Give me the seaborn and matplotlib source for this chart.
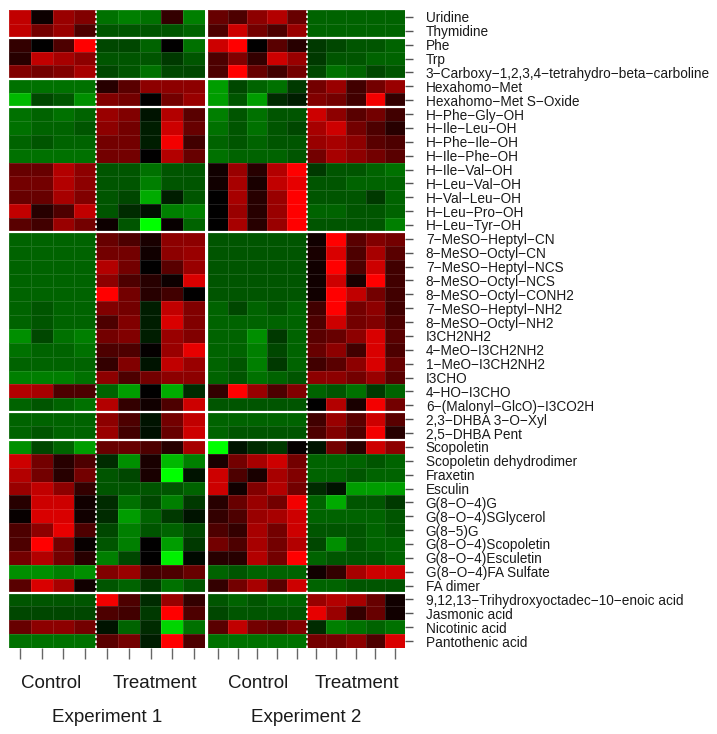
import numpy as np
import pandas as pd
import matplotlib
matplotlib.use("Agg")
import matplotlib.pyplot as plt
from matplotlib.colors import LinearSegmentedColormap, TwoSlopeNorm
import seaborn as sns

metabolites = [
    "Uridine", "Thymidine", "Phe", "Trp", "3-Carboxy-1,2,3,4-tetrahydro-beta-carboline",
    "Hexahomo-Met", "Hexahomo-Met S-Oxide", "H-Phe-Gly-OH", "H-Ile-Leu-OH", "H-Phe-Ile-OH",
    "H-Ile-Phe-OH", "H-Ile-Val-OH", "H-Leu-Val-OH", "H-Val-Leu-OH", "H-Leu-Pro-OH",
    "H-Leu-Tyr-OH", "7-MeSO-Heptyl-CN", "8-MeSO-Octyl-CN", "7-MeSO-Heptyl-NCS",
    "8-MeSO-Octyl-NCS", "8-MeSO-Octyl-CONH2", "7-MeSO-Heptyl-NH2", "8-MeSO-Octyl-NH2",
    "I3CH2NH2", "4-MeO-I3CH2NH2", "1-MeO-I3CH2NH2", "I3CHO", "4-HO-I3CHO",
    "6-(Malonyl-GlcO)-I3CO2H", "2,3-DHBA 3-O-Xyl", "2,5-DHBA Pent", "Scopoletin",
    "Scopoletin dehydrodimer", "Fraxetin", "Esculin", "G(8-O-4)G", "G(8-O-4)SGlycerol",
    "G(8-5)G", "G(8-O-4)Scopoletin", "G(8-O-4)Esculetin", "G(8-O-4)FA Sulfate", "FA dimer",
    "9,12,13-Trihydroxyoctadec-10-enoic acid", "Jasmonic acid", "Nicotinic acid",
    "Pantothenic acid",
]

exp1_control = [
    [7.5, 0.5, 6, 5], [7.5, 4.5, 6, 3], [2, 0, 3, 10], [1.5, 7.5, 6.5, 5.5], [5, 4.5, 5, 6.5],
    [-4, -4, -4, -4], [-6.5, -2.5, -3, -5], [-4, -3.5, -4, -3.5], [-4, -3.5, -3.5, -3],
    [-3.5, -3, -3.5, -3.5], [-4, -4, -4, -4], [4, 4, 7, 5.5], [4.5, 4.5, 7, 5.5],
    [4, 4, 6.5, 5], [7.5, 1.5, 3, 7.5], [3.5, 2.5, 6, 4.5],
    [-3.5, -3.5, -3.5, -3.5], [-3.5, -3.5, -3.5, -3.5], [-3.5, -3.5, -3.5, -3.5],
    [-3.5, -3.5, -3.5, -3.5], [-3.5, -3.5, -3.5, -3.5], [-3.5, -3, -3.5, -3.5],
    [-3.5, -3, -3.5, -3.5], [-5, -2.5, -4, -4.5], [-4, -3.5, -3.5, -4],
    [-3.5, -3.5, -3.5, -3.5], [-4.5, -4.5, -4.5, -4], [7, 6.5, 3, 3], [-3.5, -3, -3.5, -4],
    [-3.5, -3.5, -3.5, -3.5], [-3.5, -3, -3.5, -3.5], [-5, -2.5, -3.5, -5.5],
    [8, 4.5, 1.5, 3], [7, 4.5, 1.5, 4.5], [6, 7.5, 5.5, 2], [1.5, 8, 8, 0.7],
    [0.3, 8.5, 8.5, 0.7], [3, 5.5, 9, 3], [3, 10, 4.5, 0.3], [4.5, 7, 4.5, 1.5],
    [-5, -5, -4.5, -5], [3.5, 8.5, 6.5, 0.7], [-3, -3, -3, -3], [-2.5, -2.5, -2.5, -2.5],
    [4, 5.5, 5.5, 4.5], [-4, -4, -4, -4],
]

exp1_treatment = [
    [-4, -4.5, -4, 2, -4.5], [-3, -3, -3, -3, -3.5], [-2.5, -2.5, -3.5, 0, -4],
    [-3, -3, -3, -2, -3], [-2.5, -3, -4, -2.5, -2.5], [1.5, 3.5, 5.5, 5.5, 5.5],
    [5, 4.5, 0, 4.5, 6], [6, 5, -0.7, 7, 3.5], [5.5, 4.5, -1, 8, 4], [4.5, 4.5, -1, 9.5, 2.5],
    [4.5, 4.5, 0, 7, 4], [-3, -3, -4, -3, -3], [-3, -3, -4.5, -3, -3], [-3, -2.5, -6, -1, -3],
    [-3, -1.5, -0.5, -4.5, -4.5], [0.5, -3, -10, 0.3, -3.5], [4, 3, 1, 5.5, 5.5],
    [4.5, 4.5, 0.7, 5.5, 6], [7, 4.5, 0, 3.5, 6], [5.5, 3, 1.5, 0.5, 8.5],
    [10, 4.5, 1.5, 2.5, 0], [5, 4.5, -1, 7.5, 5], [3, 5, -1, 8.5, 5], [4.5, 5, -1, 6, 5],
    [3, 3, 0.2, 6, 9], [2, 5, -0.7, 7.5, 6], [5.5, 3, 4.5, 5.5, 5.5],
    [-3.5, -5.5, 0, -6, -1.5], [7, 2, 0.7, 3, 8], [5.5, 3, -0.7, 4.5, 7.5],
    [6, 2.5, -0.5, 4, 8], [4, 4, 3, 1.5, 6.5], [-1.5, -5, 1, -6.5, -4.5],
    [-3, -2.5, 1, -10, -0.7], [-3, -3, -3, -3, -3.5], [-1.5, -4, -2.5, -4.5, -2],
    [-1.5, -5.5, -3.5, -2, -0.7], [-2.5, -4.5, -3, -3.5, -2.5], [-3, -4.5, 0, -5.5, -2],
    [-4.5, -2.5, 0, -8.5, -0.3], [5, 6, 2.5, 3, 4], [-3, -3.5, -2, -4, -3],
    [9.5, 3, -1.5, 6, 2], [3, 2.5, -2, 10, 3], [-0.7, -3.5, -1.5, -7.5, -4],
    [3.5, 4.5, -1, 10, 3],
]

exp2_control = [
    [4, 3, 5.5, 7, 4], [3, 8, 4.5, 3, 6], [8, 10, 0, 3.5, 1.5], [3, 5, 2, 8, 6],
    [3, 10, 4, 2.5, 4.5], [-5.5, -2.5, -3.5, -4, -2], [-5.5, -3, -5.5, -1.5, -1],
    [-4.5, -3, -4, -3, -3], [-4, -3, -4, -3, -2.5], [-3.5, -3, -3.5, -3, -3],
    [-4, -3.5, -3.5, -3.5, -3], [0.7, 6, 1.5, 7, 10], [0.7, 6.5, 1, 7.5, 9],
    [0, 6.5, 1.5, 6, 10], [0, 6, 1.5, 6, 10], [0, 6.5, 1.5, 6, 10],
    [-3, -3, -3, -3, -3], [-3, -3, -3, -3, -3], [-3, -3, -3, -3, -3], [-3, -3, -3, -3, -3],
    [-3, -3, -3, -3, -3], [-3.5, -2.5, -3.5, -3, -3.5], [-3.5, -3.5, -3.5, -3.5, -3.5],
    [-3.5, -3.5, -5, -2, -3.5], [-3.5, -3.5, -4.5, -2.5, -3.5], [-3.5, -3, -4.5, -2, -3.5],
    [-3.5, -3, -4, -3.5, -3], [2, 10, 6, 3, 5], [-3, -3, -3, -3, -3],
    [-3.5, -3.5, -3.5, -3.5, -3.5], [-3.5, -3, -3, -3, -3], [-10, -0.7, -1.5, -2, 0.2],
    [1, 4.5, 6.5, 8, 4.5], [8, 3, 1, 6.5, 5], [8, 0.7, 5, 7, 4.5], [1.5, 4, 6, 4.5, 9.5],
    [2, 3, 6, 6.5, 8], [3, 2, 6.5, 4.5, 8], [4.5, 3, 6.5, 4.5, 7], [1.5, 1.5, 7, 4.5, 10],
    [-3.5, -3, -3.5, -3.5, -3.5], [2, 4.5, 6.5, 3.5, 8], [-3, -3.5, -3, -3.5, -3.5],
    [-2.5, -3, -3, -3, -3], [3.5, 7.5, 4.5, 4, 5], [-4, -4, -4, -4, -4],
]

exp2_treatment = [
    [-3.5, -3.5, -3.5, -3.5, -3.5], [-3.5, -3.5, -3.5, -3.5, -3.5], [-2, -2.5, -3, -3, -3.5],
    [-2, -3, -3, -3.5, -3.5], [-2.5, -4, -3.5, -2.5, -3], [4.5, 6, 2.5, 4.5, 6],
    [5, 4.5, 2.5, 9.5, 2], [8, 5.5, 3.5, 4.5, 2.5], [6.5, 8, 4.5, 3, 1.5], [6, 6.5, 5.5, 3.5, 3],
    [4.5, 6.5, 5.5, 4.5, 3.5], [-2, -3, -3, -3.5, -4], [-3, -3, -3.5, -3.5, -3.5],
    [-3, -3, -3, -2, -3.5], [-3.5, -3.5, -3, -3, -3.5], [-3, -3, -3, -3, -4.5],
    [0.7, 10, 3.5, 5, 4.5], [1, 8.5, 3, 6.5, 3.5], [0.7, 10, 3, 8, 2.5], [0.7, 8, 1, 10, 2.5],
    [0.7, 10, 7.5, 4.5, 2.5], [2.5, 10, 4.5, 5.5, 2.5], [3, 8, 4.5, 5, 3],
    [3.5, 4, 5.5, 8.5, 3.5], [4, 5.5, 2.5, 8.5, 3], [2.5, 3.5, 5.5, 8.5, 4],
    [5.5, 5.5, 4.5, 6, 3.5], [-3.5, -3, -4, -2, -3.5], [0, 7, 1, 9.5, 4.5],
    [2.5, 6, 3.5, 8, 3.5], [3, 5, 3, 9.5, 1.5], [-0.7, 4.5, 1.5, 8, 5.5],
    [-3.5, -3.5, -3.5, -3, -3.5], [-3.5, -3.5, -3, -3.5, -3.5], [-1.5, -0.7, -5.5, -5.5, -5.5],
    [-3.5, -6, -3, -3, -2], [-3.5, -3.5, -3.5, -3.5, -3], [-3, -3, -3, -3.5, -3],
    [-2.5, -5, -3, -3.5, -3.5], [-3.5, -3, -3, -3, -3.5], [0.7, 2, 6.5, 8, 8],
    [-3.5, -3.5, -3, -3, -3], [6, 7, 6.5, 4, 0.7], [9, 6, 2, 4, 0.7],
    [-1.5, -4.5, -4, -3.5, -4], [4.5, 4.5, 5.5, 3, 8.5],
]

group_breaks = [2, 5, 7, 16, 29, 31, 42]

plt.rcParams['font.family'] = ['Liberation Sans', 'DejaVu Sans']

cmap = LinearSegmentedColormap.from_list("greenred", [(0, 1, 0), (0, 0, 0), (1, 0, 0)])
norm = TwoSlopeNorm(vmin=-9, vcenter=0, vmax=10)

W, H = 717, 734
fig = plt.figure(figsize=(W / 100, H / 100), dpi=100)
top, bottom = 10, 648
ax1 = fig.add_axes([9 / W, 1 - bottom / H, 196 / W, (bottom - top) / H])
ax2 = fig.add_axes([208 / W, 1 - bottom / H, 197 / W, (bottom - top) / H])

df1 = pd.DataFrame(np.hstack([np.array(exp1_control), np.array(exp1_treatment)]), index=metabolites)
df2 = pd.DataFrame(np.hstack([np.array(exp2_control), np.array(exp2_treatment)]), index=metabolites)

for ax, df, ncontrol in [(ax1, df1, 4), (ax2, df2, 5)]:
    sns.heatmap(df, ax=ax, cmap=cmap, norm=norm, cbar=False,
                linewidths=0.5, linecolor=(1, 1, 1, 0.12))
    for b in group_breaks:
        ax.axhline(b, color="white", lw=1.6)
    ax.axvline(ncontrol, color="white", lw=1.2, ls=(0, (1.5, 1.5)))
    ncols = df.shape[1]
    ax.set_xticks(np.arange(ncols) + 0.5)
    ax.set_xticklabels([""] * ncols)
    ax.tick_params(axis="x", direction="out", length=8, width=1, color="#666666", bottom=True)
    ax.set_xlabel("")
    ax.set_ylabel("")

display_labels = [m.replace("-", "\u2212") for m in metabolites]

ax1.set_yticks([])
ax2.yaxis.tick_right()
ax2.set_yticks(np.arange(len(metabolites)) + 0.5)
ax2.set_yticklabels(display_labels, rotation=0, fontsize=9.8, color="#1a1a1a")
ax2.tick_params(axis="y", direction="out", length=6, width=1, color="#555555", pad=9,
                left=False, right=True)

for x, label in [(51, "Control"), (155, "Treatment"), (258, "Control"), (357, "Treatment")]:
    fig.text(x / W, 1 - 683 / H, label, ha="center", va="center", fontsize=13.5, color="#1a1a1a")
for x, label in [(107, "Experiment 1"), (306, "Experiment 2")]:
    fig.text(x / W, 1 - 718 / H, label, ha="center", va="center", fontsize=13.5, color="#1a1a1a")

fig.savefig("out.png", dpi=100, facecolor="white")
